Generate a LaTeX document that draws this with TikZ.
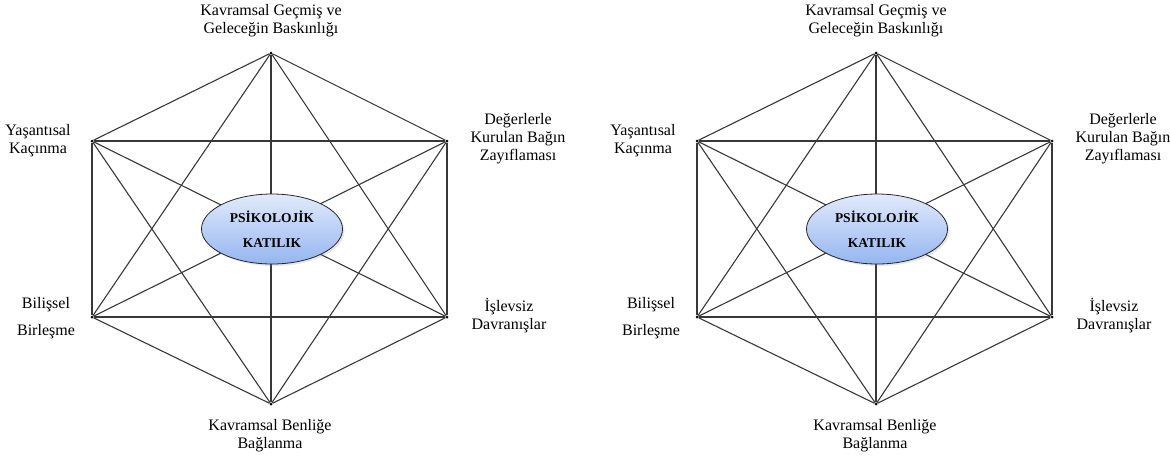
\documentclass[tikz,border=0pt]{standalone}
\usepackage{fontspec}
\setmainfont{Liberation Serif}
\usetikzlibrary{shapes.geometric,shadows}
\definecolor{coretop}{RGB}{226,234,252}
\definecolor{corebot}{RGB}{148,182,240}

\begin{document}
\begin{tikzpicture}[x=1pt,y=-1pt]
        \tikzstyle{vertex}=[circle,fill=black,inner sep=0pt,minimum size=3pt]
        \tikzstyle{edge}=[draw,line width=1.1pt,draw=black!78]
        \tikzstyle{facet}=[align=center,font=\fontsize{16}{18}\selectfont]
        \tikzstyle{core}=[ellipse,draw=black!85,thick,top color=coretop,bottom color=corebot,minimum width=141pt,minimum height=70pt,inner sep=1pt,align=center,font=\bfseries\fontsize{13.5}{25}\selectfont,drop shadow={shadow xshift=2pt,shadow yshift=-2pt,opacity=0.2}]
        \useasboundingbox (0,0) rectangle (1170,456);
        \foreach \side/\dx in {l/0,r/605} {
        \begin{scope}[xshift=\dx pt,name prefix=\side-]
                \node [vertex] (t) at (271,53) {};
                \node [vertex] (ul) at (92,141) {};
                \node [vertex] (ur) at (447,141) {};
                \node [vertex] (ll) at (92,317) {};
                \node [vertex] (lr) at (447,317) {};
                \node [vertex] (b) at (271,404) {};
                \path[edge] (t) edge (ul) edge (ur) edge (ll) edge (lr) edge (b);
                \path[edge] (ul) edge (ur) edge (ll) edge (lr) edge (b);
                \path[edge] (ur) edge (ll) edge (lr) edge (b);
                \path[edge] (ll) edge (lr) edge (b);
                \path[edge] (lr) edge (b);
                \node [core] (pk) at (272,229) {PSİKOLOJİK\\KATILIK};
                \node [facet] (tl) at (271,21) {Kavramsal Geçmiş ve\\Geleceğin Baskınlığı};
                \node [facet] (ull) at (38,141) {Yaşantısal\\Kaçınma};
                \node [facet] (url) at (518,139) {Değerlerle\\Kurulan Bağın\\Zayıflaması};
                \node [facet] (lll) at (46,318) {Bilişsel\\[9pt]Birleşme};
                \node [facet] (lrl) at (509,316) {İşlevsiz\\Davranışlar};
                \node [facet] (bl) at (270,436) {Kavramsal Benliğe\\Bağlanma};
        \end{scope}
        }
\end{tikzpicture}
\end{document}
